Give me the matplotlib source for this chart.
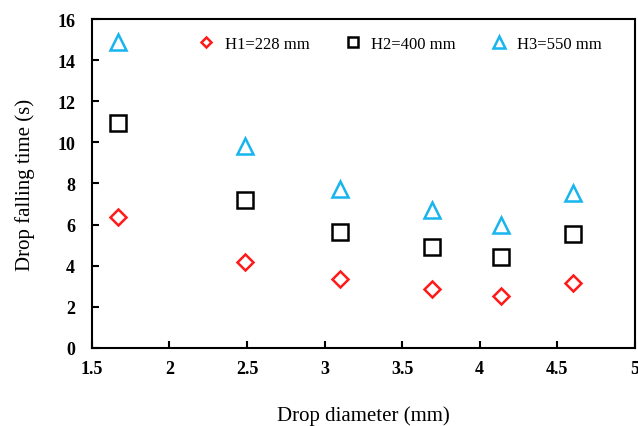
import matplotlib.pyplot as plt
import numpy as np

plt.rcParams['font.family'] = ['Liberation Serif', 'DejaVu Serif']

diameter = [1.67, 2.49, 3.10, 3.69, 4.14, 4.60]
h1 = [6.37, 4.18, 3.36, 2.87, 2.53, 3.16]
h2 = [10.94, 7.20, 5.64, 4.91, 4.43, 5.54]
h3 = [14.88, 9.82, 7.73, 6.71, 5.98, 7.54]

fig = plt.figure(figsize=(6.38, 4.27), dpi=100)
ax = fig.add_axes([0.144, 0.183, 0.851, 0.770])

ax.plot(diameter, h1, 'D', ms=8, mfc='none', mec='#ff1a1a', mew=1.8, ls='none', label='H1=228 mm')
ax.plot(diameter, h2, 's', ms=11, mfc='none', mec='black', mew=1.8, ls='none', label='H2=400 mm')
ax.plot(diameter, h3, '^', ms=12, mfc='none', mec='#17b4ee', mew=1.8, ls='none', label='H3=550 mm')

ax.set_xlim(1.5, 5)
ax.set_ylim(0, 16)
ax.set_xticks(np.arange(1.5, 5.01, 0.5))
ax.set_xticklabels(['1.5', '2', '2.5', '3', '3.5', '4', '4.5', '5'])
ax.set_yticks(range(0, 17, 2))
ax.tick_params(direction='in', length=5, width=1.5, labelsize=13)
for lab in ax.get_xticklabels() + ax.get_yticklabels():
    lab.set_fontweight('bold')
ax.tick_params(axis='x', pad=9)
ax.tick_params(axis='y', pad=12)
for s in ax.spines.values():
    s.set_linewidth(1.5)

ax.set_xlabel('Drop diameter (mm)', fontsize=15, labelpad=20)
ax.set_ylabel('Drop falling time (s)', fontsize=15, labelpad=16)

ax.legend(loc='upper center', bbox_to_anchor=(0.56, 0.995), ncol=3, frameon=False,
          fontsize=12, handletextpad=0.1, columnspacing=1.6, markerscale=0.7)

fig.savefig('out.png', dpi=100)
